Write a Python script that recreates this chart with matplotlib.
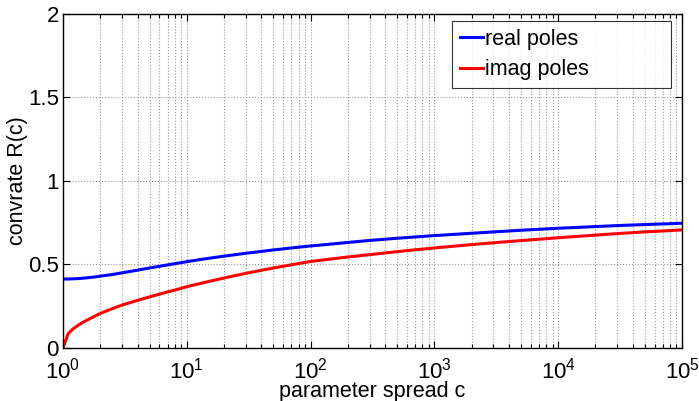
import matplotlib
matplotlib.use("Agg")
import matplotlib.pyplot as plt
from matplotlib.ticker import LogLocator, NullFormatter

plt.rcParams['font.family'] = ['Liberation Sans', 'DejaVu Sans']
plt.rcParams['mathtext.fontset'] = 'custom'
plt.rcParams['mathtext.rm'] = 'Liberation Sans'
plt.rcParams['mathtext.it'] = 'Liberation Sans:italic'

c_vals = [1, 1.1, 1.2, 1.35, 1.5, 1.75, 2, 2.5, 3, 4, 5, 6, 7, 8.5, 10, 15,
          20, 30, 50, 70, 100, 150, 200, 300, 500, 700, 1000, 2000, 3000,
          5000, 1e4, 2e4, 3e4, 5e4, 1e5]
real_poles = [0.413, 0.413, 0.414, 0.416, 0.419, 0.424, 0.430, 0.440, 0.450,
              0.466, 0.479, 0.489, 0.4975, 0.508, 0.517, 0.537, 0.550, 0.567,
              0.587, 0.599, 0.611, 0.623, 0.632, 0.644, 0.657, 0.665, 0.673,
              0.687, 0.695, 0.705, 0.717, 0.727, 0.733, 0.739, 0.747]
imag_poles = [0.0, 0.085, 0.113, 0.140, 0.160, 0.185, 0.207, 0.235, 0.257,
              0.285, 0.306, 0.322, 0.336, 0.352, 0.367, 0.398, 0.419, 0.447,
              0.479, 0.498, 0.518, 0.534, 0.545, 0.559, 0.577, 0.588, 0.599,
              0.619, 0.630, 0.643, 0.660, 0.676, 0.685, 0.695, 0.707]
y_ticks = [0, 0.5, 1, 1.5, 2]
y_tick_labels = ['0', '0.5', '1', '1.5', '2']
series_labels = ['real poles', 'imag poles']

fig = plt.figure(figsize=(6.99, 4.01), dpi=100)
ax = fig.add_axes([0.0901, 0.1322, 0.8856, 0.8329])

ax.plot(c_vals, real_poles, color='#0000ff', lw=2.2, label=series_labels[0])
ax.plot(c_vals, imag_poles, color='#ff0000', lw=2.2, label=series_labels[1])

ax.set_xscale('log')
ax.set_xlim(1, 1e5)
ax.set_ylim(0, 2)
ax.xaxis.set_major_locator(LogLocator(base=10, numticks=10))
ax.xaxis.set_minor_locator(LogLocator(base=10, subs=range(2, 10), numticks=20))
ax.xaxis.set_minor_formatter(NullFormatter())
ax.set_yticks(y_ticks)
ax.set_yticklabels(y_tick_labels)

ax.grid(True, which='major', axis='both', color='#999999', linestyle=':', lw=0.8)
ax.grid(True, which='minor', axis='x', color='#999999', linestyle=':', lw=0.8)

ax.tick_params(which='both', direction='in', top=True, right=True,
               labelsize=16, width=0.8)
ax.tick_params(which='major', length=5)
ax.tick_params(axis='x', which='major', pad=7)
ax.tick_params(axis='y', which='major', pad=3)
ax.tick_params(which='minor', length=3)
for s in ax.spines.values():
    s.set_linewidth(1.0)
    s.set_color('black')

ax.set_xlabel('parameter spread c', fontsize=15.5, va='top')
ax.xaxis.set_label_coords(0.499, -0.099)
ax.set_ylabel('convrate R(c)', fontsize=15.5, va='center')
ax.yaxis.set_label_coords(-0.0727, 0.5)

leg = ax.legend(loc='upper left', fontsize=15.5, frameon=True, fancybox=False,
                edgecolor='black', handlelength=1.1, handletextpad=0.1,
                borderpad=0.35, labelspacing=0.45, borderaxespad=0,
                mode='expand', bbox_to_anchor=(0.6284, 0.7814, 0.3538, 0.1976))
leg.get_frame().set_linewidth(0.8)

fig.savefig('out.png', dpi=100)
